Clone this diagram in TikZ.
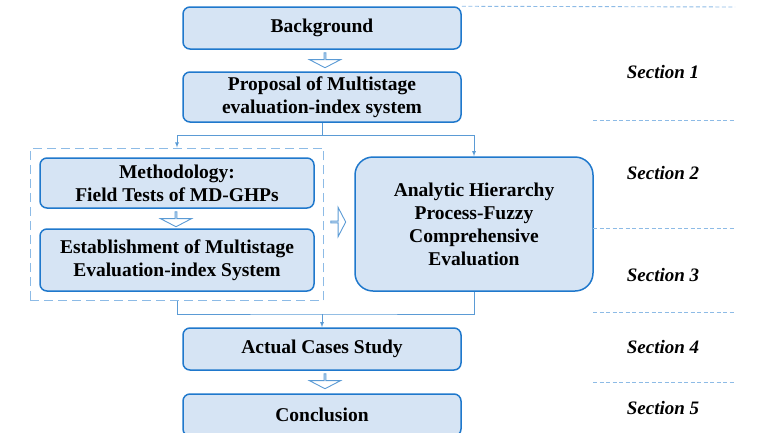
\documentclass[tikz,border=0pt]{standalone}
\usepackage{fontspec}
\setmainfont{Liberation Serif}
\usetikzlibrary{positioning,fit,calc,shapes.arrows,arrows.meta}
\tikzset{>=latex}
\definecolor{boxline}{HTML}{1F78CC}
\definecolor{boxfill}{HTML}{D6E4F4}
\definecolor{linkcol}{HTML}{5B9BD5}
\definecolor{sepcol}{HTML}{8DBBE6}
\tikzset{
  stage/.style={draw=boxline,fill=boxfill,line width=1.5pt,rounded corners=7pt,
                align=center,inner sep=0,minimum width=278pt,minimum height=42pt,
                font=\fontsize{19.5}{23}\selectfont\bfseries},
  link/.style={linkcol,line width=0.8pt},
  flow/.style={single arrow,draw=linkcol,fill=white,line width=0.9pt,inner sep=0,
               minimum width=31pt,minimum height=15pt,single arrow head extend=7.5pt,
               single arrow tip angle=125},
  group/.style={draw=sepcol,dash pattern=on 9pt off 5pt,line width=1.4pt,inner sep=9pt},
  divider/.style={sepcol,dash pattern=on 4pt off 2.5pt,line width=0.9pt},
  sect/.style={font=\fontsize{19}{22}\selectfont\bfseries\itshape}
}
\begin{document}
\begin{tikzpicture}[x=1pt,y=-1pt]
  \useasboundingbox (0,0) rectangle (768,432);
  \clip (0,0) rectangle (768,432);

  % MAIN COLUMN
  \node[stage] (back) at (322,28) {Background};
  \node[stage,minimum height=50pt] (prop) at (322,97)
    {Proposal of Multistage\\evaluation-index system};
  \node[stage,minimum width=274pt,minimum height=50pt] (meth) at (177,183)
    {Methodology:\\Field Tests of MD-GHPs};
  \node[stage,minimum width=274pt,minimum height=62pt] (estab) at (177,260)
    {Establishment of Multistage\\Evaluation-index System};
  \node[stage,minimum width=238pt,minimum height=134pt,rounded corners=18pt] (ahp) at (474,224)
    {Analytic Hierarchy\\Process-Fuzzy\\Comprehensive\\Evaluation};
  \node[stage] (case) at (322,349) {Actual Cases Study};
  \node[stage] (concl) at (322,415) {Conclusion};

  % GROUP
  \node[group,fit=(meth) (estab)] (grp) {};

  % BLOCK ARROWS
  \node[flow,shape border rotate=270] (f1) at (325,60) {};
  \node[flow,shape border rotate=270] (f2) at (176,219) {};
  \node[flow,minimum width=29pt] (f3) at (338,222) {};
  \node[flow,shape border rotate=270] (f4) at (325,381) {};

  % CONNECTORS
  \coordinate (split) at ($(prop.south)+(0,13)$);
  \draw[link] (prop.south) -- (split);
  \draw[link,->] (split) -| (grp.north);
  \draw[link,->] (split) -| (ahp.north);
  \coordinate (merge) at (322,314);
  \draw[link] (grp.south) |- (merge) -| (ahp.south);
  \draw[link,->] (merge) -- (case.north);

  % SECTIONS
  \draw[divider] (back.north east) -- (735,7);
  \foreach \y in {120,228,312,382}
    \draw[divider] (593,\y) -- (735,\y);
  \foreach \i/\y in {1/72,2/173,3/275,4/347,5/408}
    \node[sect] (s\i) at (663,\y) {Section \i};

\end{tikzpicture}
\end{document}
